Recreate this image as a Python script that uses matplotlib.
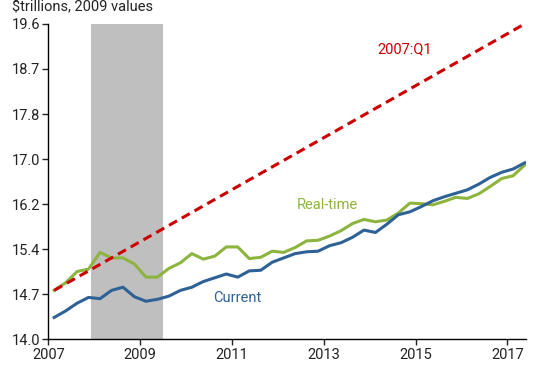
import numpy as np
import matplotlib
matplotlib.use('Agg')
import matplotlib.pyplot as plt
from matplotlib.ticker import FixedLocator, FixedFormatter, NullLocator

# quarterly data, 2007:Q1 - 2017:Q2 ($ trillions, 2009 values)
years = [2007, 2008, 2009, 2010, 2011, 2012, 2013, 2014, 2015, 2016, 2017]
current = [14.33, 14.43, 14.55, 14.64,
           14.62, 14.75, 14.80, 14.65,
           14.58, 14.61, 14.66, 14.75,
           14.80, 14.89, 14.95, 15.01,
           14.96, 15.06, 15.07, 15.20,
           15.27, 15.34, 15.37, 15.38,
           15.47, 15.52, 15.61, 15.73,
           15.69, 15.83, 15.99, 16.04,
           16.13, 16.23, 16.30, 16.36,
           16.42, 16.52, 16.64, 16.73,
           16.79, 16.90]
realtime = [14.75, 14.87, 15.05, 15.09,
            15.36, 15.27, 15.27, 15.17,
            14.96, 14.96, 15.10, 15.19,
            15.34, 15.25, 15.30, 15.45,
            15.45, 15.26, 15.28, 15.38,
            15.36, 15.44, 15.55, 15.56,
            15.63, 15.72, 15.84, 15.91,
            15.87, 15.90, 16.02, 16.19,
            16.18, 16.16, 16.22, 16.29,
            16.27, 16.35, 16.48, 16.62,
            16.67, 16.86]
trend_ends = [14.75, 19.6]          # 2007:Q1 trend, start and end
recession = [2007.92, 2009.5]
yticks = [14.0, 14.7, 15.4, 16.2, 17.0, 17.8, 18.7, 19.6]
xticks = [2007, 2009, 2011, 2013, 2015, 2017]

dates = [y + q / 4 + 0.125 for y in years for q in range(4)][:len(current)]

plt.rcParams['font.family'] = ['Roboto', 'DejaVu Sans']

fig = plt.figure(figsize=(5.5, 3.65), dpi=100)
ax = fig.add_axes([0.088, 0.0704, 0.868, 0.864])

ax.axvspan(recession[0], recession[1], color='#bfbfbf', lw=0, zorder=0)
ax.plot(dates, realtime, color='#8db43e', lw=2.2, zorder=2)
ax.plot(dates, current, color='#2e6195', lw=2.2, zorder=3)
ax.plot([dates[0], dates[-1]], trend_ends, color='#cc0000', lw=2.2,
        dashes=(3, 1.8), zorder=4)

# log scale, ticks evenly spaced between 14.0 and 19.6
ax.set_yscale('log')
ax.set_ylim(14.0, 19.6)
ax.set_xlim(2007, 2017.4)
ax.yaxis.set_major_locator(FixedLocator(np.exp(np.linspace(np.log(14.0), np.log(19.6), 8))))
ax.yaxis.set_major_formatter(FixedFormatter(['%.1f' % v for v in yticks]))
ax.yaxis.set_minor_locator(NullLocator())
ax.set_xticks(xticks)
ax.set_xticklabels([str(x) for x in xticks])

for s in ['top', 'right']:
    ax.spines[s].set_visible(False)
for s in ['left', 'bottom']:
    ax.spines[s].set_linewidth(1.0)
ax.tick_params(axis='both', direction='out', length=4, width=1.0,
               labelsize=10.5, colors='#222222', pad=2)

ax.text(2014.77, 19.07, '2007:Q1', color='#cc0000', fontsize=10.5,
        ha='center', va='center')
ax.text(2013.07, 16.16, 'Real-time', color='#8db43e', fontsize=10.5,
        ha='center', va='center')
ax.text(2011.11, 14.63, 'Current', color='#2e6195', fontsize=10.5,
        ha='center', va='center')

fig.text(0.022, 0.968, '$trillions, 2009 values', fontsize=10.5,
         color='#222222', ha='left', va='baseline')

fig.savefig('out.png', dpi=100)
